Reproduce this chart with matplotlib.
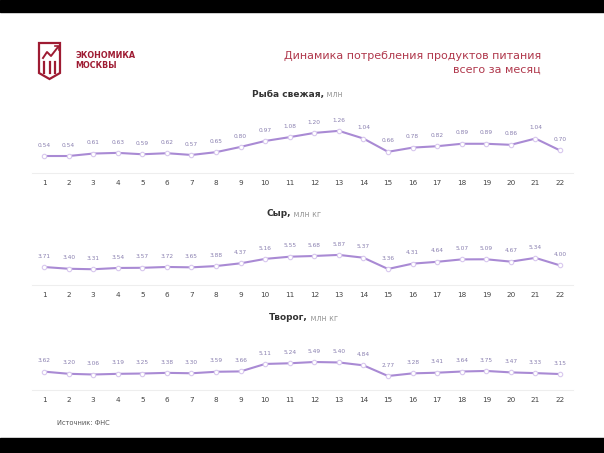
import matplotlib
matplotlib.use('Agg')
import matplotlib.pyplot as plt
from matplotlib.patches import Rectangle, Polygon

days = list(range(1, 23))
fish = [0.54, 0.54, 0.61, 0.63, 0.59, 0.62, 0.57, 0.65, 0.80, 0.97, 1.08,
        1.20, 1.26, 1.04, 0.66, 0.78, 0.82, 0.89, 0.89, 0.86, 1.04, 0.70]
cheese = [3.71, 3.40, 3.31, 3.54, 3.57, 3.72, 3.65, 3.88, 4.37, 5.16, 5.55,
          5.68, 5.87, 5.37, 3.36, 4.31, 4.64, 5.07, 5.09, 4.67, 5.34, 4.00]
curd = [3.62, 3.20, 3.06, 3.19, 3.25, 3.38, 3.30, 3.59, 3.66, 5.11, 5.24,
        5.49, 5.40, 4.84, 2.77, 3.28, 3.41, 3.64, 3.75, 3.47, 3.33, 3.15]

W, H = 604, 453
LINE = '#a98ad4'
LABEL = '#8a80b0'
TICK = '#444444'
RED = '#b0384c'

fig = plt.figure(figsize=(W / 100, H / 100), dpi=100)
fig.patch.set_facecolor('white')

# black bars top and bottom
fig.patches.append(Rectangle((0, 1 - 12 / H), 1, 12 / H, transform=fig.transFigure,
                             color='black', zorder=0))
fig.patches.append(Rectangle((0, 0), 1, 15 / H, transform=fig.transFigure,
                             color='black', zorder=0))


def px_axes(x0, x1, ytop, ybot):
    return fig.add_axes([x0 / W, 1 - ybot / H, (x1 - x0) / W, (ybot - ytop) / H])


# values, bold name, unit, axes top/bottom px, ylim, title y px, split x px
panels = [
    (fish, 'Рыба свежая,', ' млн', 120, 173, (0.054, 1.57), 94, 324),
    (cheese, 'Сыр,', ' млн кг', 240, 285, (0.5, 8.53), 214, 291),
    (curd, 'Творог,', ' млн кг', 345, 390, (0.05, 8.79), 318, 308),
]

for vals, name, unit, ytop, ybot, ylim, ytitle, xsplit in panels:
    ax = px_axes(32, 573, ytop, ybot)
    ax.plot(days, vals, color=LINE, lw=1.5, marker='o', ms=3.2,
            mfc='white', mec='#d8c8ee', mew=0.8, zorder=3)
    for d, v in zip(days, vals):
        ax.annotate(f'{v:.2f}', (d, v), xytext=(0, 6), textcoords='offset points',
                    ha='center', va='bottom', fontsize=4.2, color=LABEL)
    ax.set_xlim(0.51, 22.53)
    ax.set_ylim(*ylim)
    ax.set_yticks([])
    ax.set_xticks(days)
    ax.set_xticklabels([str(d) for d in days], fontsize=5.2, color=TICK)
    ax.tick_params(axis='x', length=0, pad=5)
    for s in ['top', 'left', 'right']:
        ax.spines[s].set_visible(False)
    ax.spines['bottom'].set_color('#eeeeee')
    ax.spines['bottom'].set_linewidth(0.8)
    ax.patch.set_alpha(0)
    fig.text(xsplit / W, 1 - ytitle / H, name, ha='right', va='center',
             fontsize=6.5, fontweight='bold', color='#333333')
    fig.text(xsplit / W, 1 - (ytitle + 0.5) / H, unit, ha='left', va='center',
             fontsize=5.6, color='#999999')

# header title
fig.text(541 / W, 1 - 56 / H, 'Динамика потребления продуктов питания',
         ha='right', va='center', fontsize=8, color=RED)
fig.text(541 / W, 1 - 70 / H, 'всего за месяц',
         ha='right', va='center', fontsize=8, color=RED)

# logo
lax = px_axes(36, 66, 40, 82)
lax.set_xlim(0, 30)
lax.set_ylim(42, 0)
lax.axis('off')
shield = Polygon([(3, 3), (24, 3), (24, 33), (13.5, 39), (3, 33)], closed=True,
                 fill=False, ec='#9e1b32', lw=1.6)
lax.add_patch(shield)
lax.plot([7, 11, 15, 22], [18, 12, 16, 7], color='#9e1b32', lw=1.4)
lax.plot([19, 23, 23], [6, 6, 10], color='#9e1b32', lw=1.2)
for xb in [8, 13.5, 19]:
    lax.plot([xb, xb], [22, 33], color='#9e1b32', lw=1.6)
fig.text(75 / W, 1 - 55 / H, 'ЭКОНОМИКА', ha='left', va='center',
         fontsize=5.8, fontweight='bold', color='#9e1b32')
fig.text(75 / W, 1 - 65 / H, 'МОСКВЫ', ha='left', va='center',
         fontsize=5.8, fontweight='bold', color='#9e1b32')

fig.text(57 / W, 1 - 423 / H, 'Источник: ФНС', ha='left', va='center',
         fontsize=4.8, color='#555555')

fig.savefig('out.png', dpi=100, facecolor='white')
